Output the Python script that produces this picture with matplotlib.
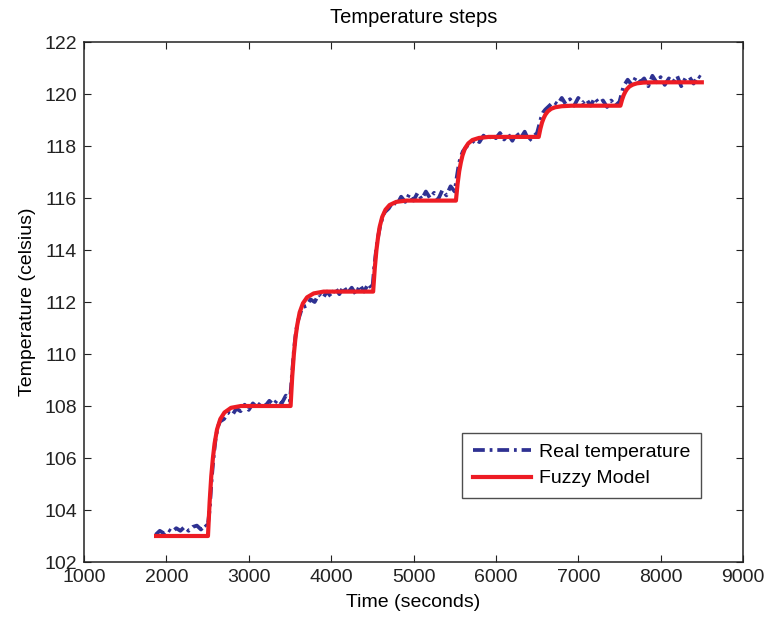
import matplotlib
matplotlib.use("Agg")
import matplotlib.pyplot as plt

plt.rcParams['font.family'] = ['Liberation Sans', 'DejaVu Sans']
plt.rcParams['lines.scale_dashes'] = False

title = "Temperature steps"
x_label = "Time (seconds)"
y_label = "Temperature (celsius)"
legend_labels = ["Real temperature", "Fuzzy Model"]
x_ticks = [1000, 2000, 3000, 4000, 5000, 6000, 7000, 8000, 9000]
y_ticks = [102, 104, 106, 108, 110, 112, 114, 116, 118, 120, 122]

real_time = [1870, 1920, 1970, 2020, 2070, 2120, 2170, 2220, 2270, 2320, 2370, 2420, 2470, 2500,
             2525, 2550, 2575, 2600, 2625, 2650, 2700, 2750, 2800, 2850, 2900, 2950, 3000, 3050,
             3100, 3150, 3200, 3250, 3300, 3350, 3400, 3450, 3500,
             3525, 3550, 3575, 3600, 3625, 3650, 3700, 3750, 3800, 3850, 3900, 3950, 4000, 4050,
             4100, 4150, 4200, 4250, 4300, 4350, 4400, 4450, 4500,
             4525, 4550, 4575, 4600, 4625, 4650, 4700, 4750, 4800, 4850, 4900, 4950, 5000, 5050,
             5100, 5150, 5200, 5250, 5300, 5350, 5400, 5450, 5500,
             5525, 5550, 5575, 5600, 5650, 5700, 5750, 5800, 5850, 5900, 5950, 6000, 6050, 6100,
             6150, 6200, 6250, 6300, 6350, 6400, 6450, 6500,
             6525, 6550, 6575, 6600, 6650, 6700, 6750, 6800, 6850, 6900, 6950, 7000, 7050, 7100,
             7150, 7200, 7250, 7300, 7350, 7400, 7450, 7500,
             7525, 7550, 7600, 7650, 7700, 7750, 7800, 7850, 7900, 7950, 8000, 8050, 8100, 8150,
             8200, 8250, 8300, 8350, 8400, 8450, 8500]
real_temp = [103.05, 103.2, 103.1, 103.25, 103.15, 103.3, 103.2, 103.35, 103.2, 103.35, 103.4, 103.25, 103.45, 103.35,
             104.0, 105.2, 106.1, 106.8, 107.2, 107.4, 107.5, 107.75, 107.65, 107.9, 107.8, 108.05, 107.85, 108.1,
             107.95, 108.15, 108.0, 108.2, 108.05, 108.25, 108.1, 108.4, 108.2,
             109.2, 110.2, 110.9, 111.3, 111.55, 111.8, 111.85, 112.1, 112.0, 112.3, 112.15, 112.4, 112.2, 112.55,
             112.3, 112.6, 112.35, 112.55, 112.3, 112.65, 112.4, 112.7, 112.5,
             113.4, 114.1, 114.6, 115.0, 115.25, 115.45, 115.6, 115.85, 115.75, 116.05, 115.85, 116.15, 115.9, 116.2,
             115.95, 116.25, 116.0, 116.2, 115.95, 116.3, 116.1, 116.45, 116.25,
             116.8, 117.3, 117.6, 117.8, 118.0, 118.1, 118.25, 118.15, 118.4, 118.25, 118.45, 118.3, 118.5, 118.25,
             118.45, 118.2, 118.5, 118.3, 118.55, 118.2, 118.35, 118.5,
             118.8, 119.1, 119.3, 119.4, 119.55, 119.7, 119.6, 119.85, 119.6, 119.8, 119.55, 119.85, 119.65, 119.8,
             119.55, 119.85, 119.65, 119.75, 119.5, 119.75, 119.55, 119.7,
             120.0, 120.3, 120.55, 120.35, 120.65, 120.45, 120.6, 120.3, 120.7, 120.45, 120.65, 120.35, 120.6, 120.45,
             120.7, 120.3, 120.6, 120.65, 120.4, 120.7, 120.6]

# Fuzzy model output
model_time = [1875,
              2505, 2525, 2545, 2565, 2585, 2615, 2655, 2705, 2785, 2905,
              3508, 3528, 3548, 3568, 3588, 3618, 3658, 3708, 3788, 3908,
              4510, 4530, 4550, 4570, 4590, 4620, 4660, 4710, 4790, 4910,
              5515, 5535, 5555, 5575, 5595, 5625, 5665, 5715, 5795, 5915,
              6520, 6540, 6560, 6580, 6600, 6630, 6670, 6720, 6800, 6920,
              7512, 7532, 7552, 7572, 7592, 7622, 7662, 7712, 7792, 7912,
              8500]
model_temp = [103.0,
              103.0, 104.3, 105.3, 106.0, 106.55, 107.1, 107.5, 107.75, 107.93, 108.0,
              108.0, 109.15, 110.0, 110.65, 111.1, 111.6, 111.95, 112.18, 112.33, 112.4,
              112.4, 113.3, 114.0, 114.5, 114.9, 115.27, 115.55, 115.73, 115.85, 115.9,
              115.9, 116.54, 117.03, 117.37, 117.64, 117.91, 118.1, 118.23, 118.31, 118.35,
              118.35, 118.66, 118.9, 119.07, 119.2, 119.33, 119.43, 119.49, 119.53, 119.55,
              119.55, 119.78, 119.96, 120.09, 120.19, 120.29, 120.36, 120.41, 120.44, 120.45,
              120.45]

fig = plt.figure(figsize=(7.69, 6.19), dpi=100)
ax = fig.add_axes([84 / 769, 57 / 619, 659 / 769, 520 / 619])

ax.plot(real_time, real_temp, color='#2E3192', linewidth=2.7,
        dashes=(8.5, 3.5, 2.0, 3.5), label=legend_labels[0])
ax.plot(model_time, model_temp, color='#ED1C24', linewidth=3.0,
        solid_joinstyle='round', label=legend_labels[1])

ax.set_xlim(1000, 9000)
ax.set_ylim(102, 122)
ax.set_xticks(x_ticks)
ax.set_yticks(y_ticks)
ax.tick_params(direction='in', length=5, width=0.8, top=True, right=True,
               labelsize=14, pad=5, colors='#222222')
for s in ax.spines.values():
    s.set_linewidth(1.1)
    s.set_color('#222222')

ax.set_title(title, fontsize=14.5, pad=14)
ax.set_xlabel(x_label, fontsize=14, labelpad=6)
ax.set_ylabel(y_label, fontsize=14, labelpad=6)

leg = ax.legend(loc='lower right', bbox_to_anchor=(0.936, 0.123), fontsize=14,
                frameon=True, fancybox=False, handlelength=3.0, handletextpad=0.4,
                borderpad=0.55, labelspacing=0.45, borderaxespad=0)
leg.get_frame().set_edgecolor('#222222')
leg.get_frame().set_linewidth(1.0)

fig.savefig('out.png', dpi=100)
